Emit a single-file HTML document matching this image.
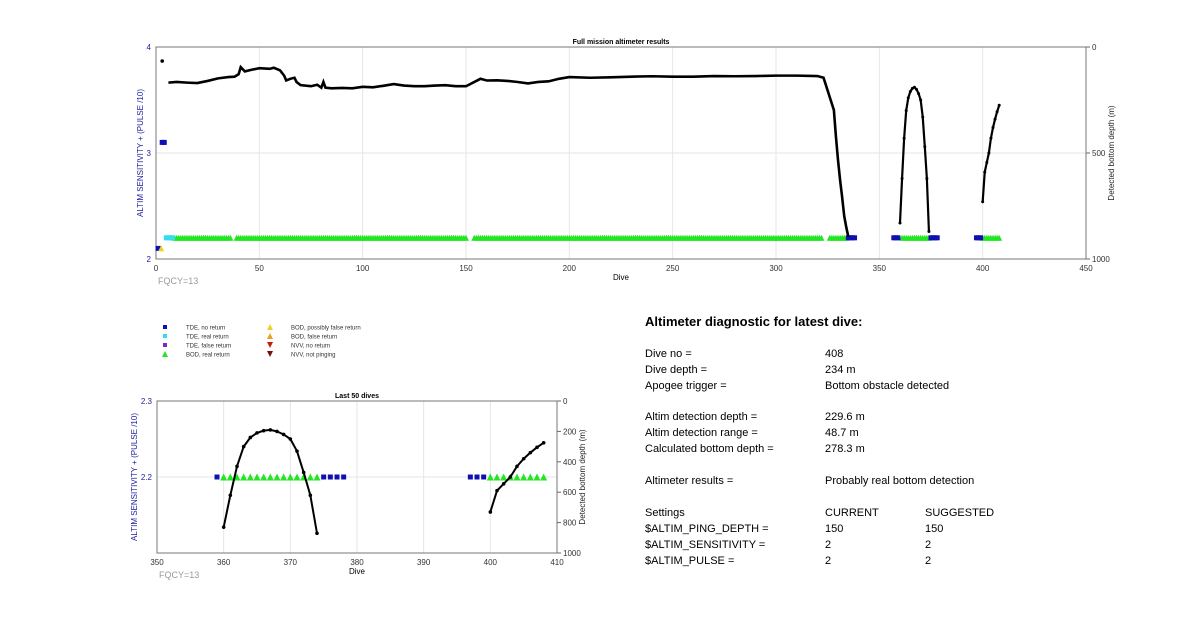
<!DOCTYPE html>
<html><head><meta charset="utf-8"><style>
body{margin:0;background:#fff;font-family:"Liberation Sans",Arial,sans-serif}
svg text{font-family:"Liberation Sans",Arial,sans-serif}
</style></head><body>
<svg id="s" width="1200" height="622" xmlns="http://www.w3.org/2000/svg">
<g id="top"></g>
<g id="bot"></g>
<g id="legend"></g>
<g id="panel" font-size="11" fill="#000">
<text x="645" y="326" font-size="13" font-weight="bold">Altimeter diagnostic for latest dive:</text>
<text x="645" y="357">Dive no =</text><text x="825" y="357">408</text>
<text x="645" y="373">Dive depth =</text><text x="825" y="373">234 m</text>
<text x="645" y="389">Apogee trigger =</text><text x="825" y="389">Bottom obstacle detected</text>
<text x="645" y="420">Altim detection depth =</text><text x="825" y="420">229.6 m</text>
<text x="645" y="436">Altim detection range =</text><text x="825" y="436">48.7 m</text>
<text x="645" y="452">Calculated bottom depth =</text><text x="825" y="452">278.3 m</text>
<text x="645" y="484">Altimeter results =</text><text x="825" y="484">Probably real bottom detection</text>
<text x="645" y="516">Settings</text><text x="825" y="516">CURRENT</text><text x="925" y="516">SUGGESTED</text>
<text x="645" y="532">$ALTIM_PING_DEPTH =</text><text x="825" y="532">150</text><text x="925" y="532">150</text>
<text x="645" y="548">$ALTIM_SENSITIVITY =</text><text x="825" y="548">2</text><text x="925" y="548">2</text>
<text x="645" y="564">$ALTIM_PULSE =</text><text x="825" y="564">2</text><text x="925" y="564">2</text>
</g>
</svg>
<script>
// ---- top chart data ----
const topDepthDives=[3];
const topDepthVals=[66];
const segA_dives=[6,10,15,20,25,30,35,38,40,41,43,46,50,55,57,60,62,63,65,67,68,70,75,78,80,81,82,85,90,95,100,105,110,115,120,125,130,135,140,145,150,155,157,160,165,170,175,180,185,190,195,200,210,220,230,240,250,260,270,280,290,300,310,320,323,328,329,330,331,332,333,334,335];
const segA_vals=[168,165,168,170,160,148,142,140,128,95,115,108,100,103,98,110,135,158,150,145,165,180,185,178,192,165,192,195,193,195,188,190,183,175,182,185,185,182,180,185,185,160,150,158,157,160,165,172,165,162,150,142,145,143,140,138,140,140,137,138,137,135,135,137,145,297,423,533,627,708,797,850,895];
const segB_dives=[360,361,362,363,364,365,366,367,368,369,370,371,372,373,374];
const segB_vals=[830,620,430,300,240,210,195,190,200,220,250,330,470,620,870];
const segC_dives=[400,401,402,403,404,405,406,407,408];
const segC_vals=[730,590,545,500,430,380,340,305,275];
const triDives=[];
[[9,36],[39,150],[154,322],[326,334],[361,374],[400,408]].forEach(r=>{for(let d=r[0];d<=r[1];d++)triDives.push(d)});
const noRetDives=[335,336,337,338,357,358,359,375,376,377,378,397,398,399];
const realRetTdeDives=[5,6,7,8];
const highSqDives=[3,4];
const highSqVal=3.1;
const botTri=[360,361,362,363,364,365,366,367,368,369,370,371,372,373,374,400,401,402,403,404,405,406,407,408];
const botSq=[359,375,376,377,378,397,398,399];

const NS='http://www.w3.org/2000/svg';
function el(parent,tag,attrs){const e=document.createElementNS(NS,tag);for(const k in attrs)e.setAttribute(k,attrs[k]);parent.appendChild(e);return e;}
function txt(parent,x,y,s,attrs){const t=el(parent,'text',Object.assign({x:x,y:y},attrs||{}));t.textContent=s;return t;}

function chart(g,o){
  const X=v=>o.x0+(v-o.xmin)/(o.xmax-o.xmin)*(o.x1-o.x0);
  const Y=v=>o.y1-(v-o.ymin)/(o.ymax-o.ymin)*(o.y1-o.y0);
  const D=v=>o.y0+v/1000*(o.y1-o.y0);
  o.xt.forEach(v=>{const l=el(g,'line',{x1:X(v),x2:X(v),y1:o.y0,y2:o.y1,stroke:'#e6e6e6','stroke-width':1});
    
    const t=txt(g,X(v),o.y1+12,String(v),{'font-size':8,'text-anchor':'middle',fill:'#333'});
    });
  o.yt.forEach(v=>{el(g,'line',{x1:o.x0,x2:o.x1,y1:Y(v),y2:Y(v),stroke:'#e6e6e6'});
    const t=txt(g,o.x0-5,Y(v)+3,String(v),{'font-size':8,'text-anchor':'end',fill:'#2020a0'});
    });
  o.dt.forEach(v=>{el(g,'line',{x1:o.x1,x2:o.x1+4,y1:D(v),y2:D(v),stroke:'#666'});
    const t=txt(g,o.x1+6,D(v)+3,String(v),{'font-size':8,fill:'#333'});
    });
  const box=el(g,'rect',{x:o.x0,y:o.y0,width:o.x1-o.x0,height:o.y1-o.y0,fill:'none',stroke:'#777','stroke-width':1});
  
  const ti=txt(g,(o.x0+o.x1)/2,o.y0-3,o.title,{'font-size':7,'font-weight':'bold','text-anchor':'middle'});
  
  const xl=txt(g,(o.x0+o.x1)/2,o.y1+21,'Dive',{'font-size':8,'text-anchor':'middle'});
  
  const fq=txt(g,o.x0+2,o.y1+25,'FQCY=13',{'font-size':9,fill:'#999'});
  
  const cy=(o.y0+o.y1)/2;
  const yl=txt(g,0,0,'ALTIM SENSITIVITY + (PULSE /10)',{'font-size':8,fill:'#2020a0','text-anchor':'middle',transform:`translate(${o.x0-o.lOff},${cy}) rotate(-90)`});
  
  const rl=txt(g,0,0,'Detected bottom depth (m)',{'font-size':8,fill:'#222','text-anchor':'middle',transform:`translate(${o.x1+o.rOff},${cy}) rotate(-90)`});
  
  return {X,Y,D};
}
function sq(g,x,y,c,s){const r=el(g,'rect',{x:x-s/2,y:y-s/2,width:s,height:s,fill:c});}
function tri(g,x,y,c,s){const p=el(g,'polygon',{points:`${x},${y-s/2} ${x-s/2},${y+s/2} ${x+s/2},${y+s/2}`,fill:c});}
function line(g,ds,vs,D,X,marks,w){
  const pts=ds.map((d,i)=>X(d)+','+D(vs[i])).join(' ');
  const l=el(g,'polyline',{points:pts,fill:'none',stroke:'#000','stroke-width':w||2});
  
  if(marks)ds.forEach((d,i)=>{const c=el(g,'circle',{cx:X(d),cy:D(vs[i]),r:marks,fill:'#000'});
    });
}
const gt=document.getElementById('top');
const T=chart(gt,{x0:156,x1:1086,y0:47,y1:259,xmin:0,xmax:450,ymin:2,ymax:4,xt:[0,50,100,150,200,250,300,350,400,450],yt:[2,3,4],dt:[0,500,1000],title:'Full mission altimeter results',rOff:28,lOff:13});
triDives.forEach(d=>tri(gt,T.X(d),T.Y(2.2),'#22e622',6));
realRetTdeDives.forEach(d=>sq(gt,T.X(d),T.Y(2.2),'#33ddee',5));
noRetDives.forEach(d=>sq(gt,T.X(d),T.Y(2.2),'#1010b0',5));
highSqDives.forEach(d=>sq(gt,T.X(d),T.Y(highSqVal),'#1010b0',5));
sq(gt,T.X(1),T.Y(2.1),'#1010b0',5);
tri(gt,T.X(2.5),T.Y(2.1),'#f0d020',6);
line(gt,segA_dives,segA_vals,T.D,T.X,0,2.6);
line(gt,segB_dives,segB_vals,T.D,T.X,1.5,2.2);
line(gt,segC_dives,segC_vals,T.D,T.X,1.5,2.2);
topDepthDives.forEach((d,i)=>{const c=el(gt,'circle',{cx:T.X(d),cy:T.D(topDepthVals[i]),r:1.8,fill:'#000'});});
const gb=document.getElementById('bot');
const B=chart(gb,{x0:157,x1:557,y0:401,y1:553,xmin:350,xmax:410,ymin:2.1,ymax:2.3,xt:[350,360,370,380,390,400,410],yt:[2.2,2.3],dt:[0,200,400,600,800,1000],title:'Last 50 dives',rOff:28,lOff:20});
botTri.forEach(d=>tri(gb,B.X(d),B.Y(2.2),'#22e622',7));
botSq.forEach(d=>sq(gb,B.X(d),B.Y(2.2),'#1010b0',5));
line(gb,segB_dives,segB_vals,B.D,B.X,1.8);
line(gb,segC_dives,segC_vals,B.D,B.X,1.8);
const gl=document.getElementById('legend');
const leg=[['sq','#1010b0','TDE, no return',165,327],['sq','#33ddee','TDE, real return',165,336],['sq','#7030c0','TDE, false return',165,345],['tri','#22e622','BOD, real return',165,354],
['tri','#f0d020','BOD, possibly false return',270,327],['tri','#e8a020','BOD, false return',270,336],['dtri','#c02010','NVV, no return',270,345],['dtri','#701010','NVV, not pinging',270,354]];
leg.forEach(e=>{
  if(e[0]==='sq')sq(gl,e[3],e[4],e[1],4);
  else if(e[0]==='tri')tri(gl,e[3],e[4],e[1],6);
  else{const p=el(gl,'polygon',{points:`${e[3]-3},${e[4]-3} ${e[3]+3},${e[4]-3} ${e[3]},${e[4]+3}`,fill:e[1]});}
  const t=txt(gl,e[3]+21,e[4]+2.5,e[2],{'font-size':6,fill:'#333'});
  
});
</script>
</body></html>
